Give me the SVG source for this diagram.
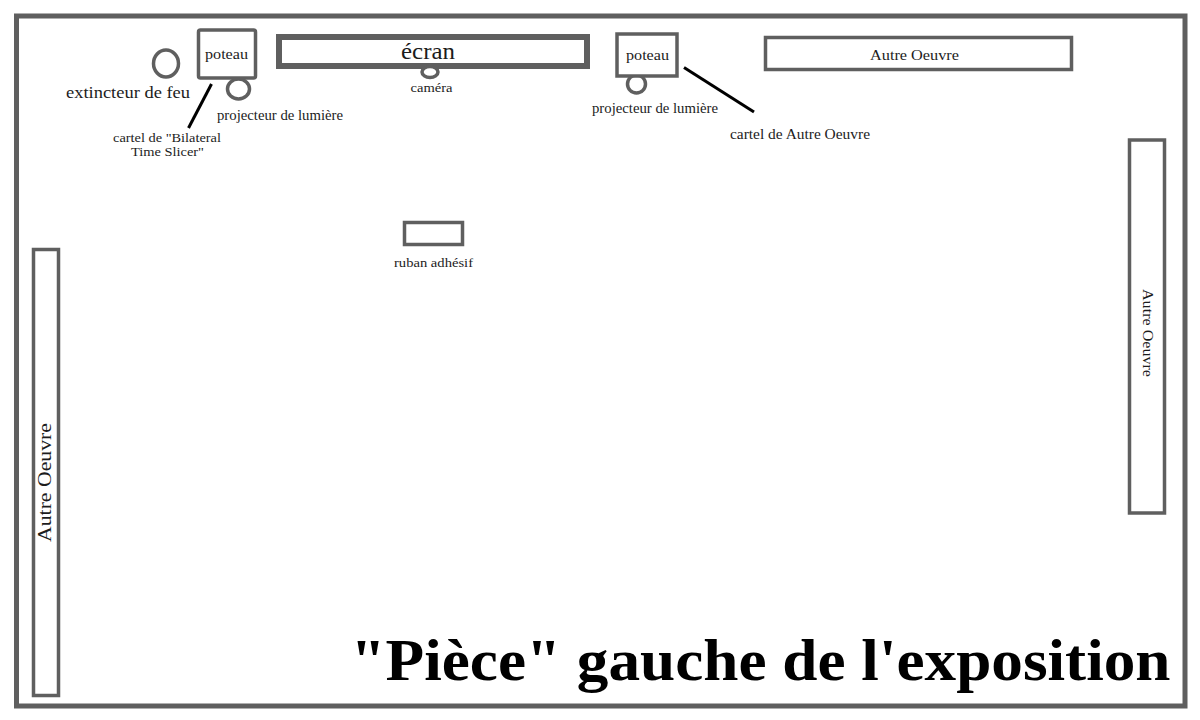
<svg xmlns="http://www.w3.org/2000/svg" width="1200" height="720" viewBox="0 0 1200 720">
<defs><filter id="soft" filterUnits="userSpaceOnUse" x="0" y="0" width="1200" height="720"><feGaussianBlur stdDeviation="0.7"/></filter></defs>
<style>
text{font-family:"Liberation Serif","Times New Roman",serif;fill:#1c1c1c;text-anchor:middle}
.s{fill:#fff;stroke:#5f5f5f;stroke-width:3.500;filter:url(#soft)}
.t{fill:#fff;stroke:#5f5f5f;stroke-width:6;filter:url(#soft)}
.l{stroke:#000;stroke-width:3;fill:none}
</style>
<rect width="1200" height="720" fill="#fff"/>
<rect id="mur" x="16.500" y="16" width="1168.500" height="690" fill="#fff" stroke="#5f5f5f" stroke-width="5" filter="url(#soft)"/>
<g id="extincteur"><ellipse class="s" cx="166" cy="63.500" rx="12.500" ry="13.500"/><text x="128" y="98" font-size="17" textLength="124" lengthAdjust="spacingAndGlyphs">extincteur de feu</text></g>
<g id="projecteur1"><ellipse class="s" cx="238.500" cy="89" rx="11" ry="10"/><text x="280" y="120" font-size="14" textLength="126" lengthAdjust="spacingAndGlyphs">projecteur de lumière</text></g>
<g id="poteau1"><rect class="s" x="198.500" y="30" width="57" height="48" rx="2"/><text x="226.500" y="59" font-size="15" textLength="43" lengthAdjust="spacingAndGlyphs">poteau</text></g>
<g id="ecran"><rect class="t" x="279" y="37" width="308" height="29"/><text x="428" y="59" font-size="23" textLength="54" lengthAdjust="spacingAndGlyphs">écran</text></g>
<g id="camera"><ellipse class="s" cx="430" cy="72" rx="8" ry="5.500"/><text x="431.500" y="92" font-size="13" textLength="42" lengthAdjust="spacingAndGlyphs">caméra</text></g>
<g id="projecteur2"><circle class="s" cx="636.500" cy="84" r="9"/><text x="655" y="113" font-size="14" textLength="126" lengthAdjust="spacingAndGlyphs">projecteur de lumière</text></g>
<g id="poteau2"><rect class="s" x="617" y="34" width="60" height="42"/><text x="647.500" y="60" font-size="15" textLength="43" lengthAdjust="spacingAndGlyphs">poteau</text></g>
<g id="oeuvre1"><rect class="s" x="765.500" y="37.500" width="306" height="32"/><text x="914.500" y="60" font-size="15" textLength="89" lengthAdjust="spacingAndGlyphs">Autre Oeuvre</text></g>
<g id="oeuvre2"><rect class="s" x="1129.500" y="140" width="35" height="373"/><text transform="translate(1143 333) rotate(90)" font-size="15" textLength="88" lengthAdjust="spacingAndGlyphs">Autre Oeuvre</text></g>
<g id="oeuvre3"><rect class="s" x="33.500" y="249.500" width="25" height="446"/><text transform="translate(50.500 482.500) rotate(-90)" font-size="18.500" textLength="119" lengthAdjust="spacingAndGlyphs">Autre Oeuvre</text></g>
<g id="ruban"><rect class="s" x="404.500" y="222.500" width="58" height="22"/><text x="433.500" y="267" font-size="13.500" textLength="79" lengthAdjust="spacingAndGlyphs">ruban adhésif</text></g>
<g id="connecteurs"><line class="l" x1="211.500" y1="84" x2="188.500" y2="128"/><line class="l" x1="684" y1="67.500" x2="754" y2="112"/></g>
<text x="167" y="142" font-size="13" textLength="108" lengthAdjust="spacingAndGlyphs">cartel de "Bilateral</text>
<text x="167.500" y="156" font-size="13" textLength="73" lengthAdjust="spacingAndGlyphs">Time Slicer"</text>
<text x="800" y="139" font-size="14" textLength="140" lengthAdjust="spacingAndGlyphs">cartel de Autre Oeuvre</text>
<text x="760.500" y="680" font-size="60" font-weight="bold" style="fill:#000" textLength="820" lengthAdjust="spacingAndGlyphs">"Pièce" gauche de l'exposition</text>
</svg>
